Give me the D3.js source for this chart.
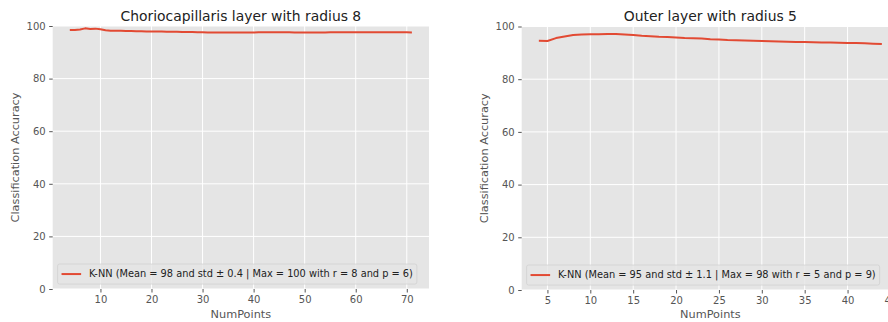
<!DOCTYPE html>
<html>
<head>
<meta charset="utf-8">
<script src="https://cdn.jsdelivr.net/npm/d3@7"></script>
<style>
  html, body { margin: 0; padding: 0; background: #ffffff; }
  svg { display: block; font-family: "DejaVu Sans", sans-serif; }
</style>
</head>
<body>
<svg id="chart" width="888" height="322"></svg>
<script>
// ---------- DATA ----------
const leftTitle = "Choriocapillaris layer with radius 8";
const leftX = d3.range(4, 72); // NumPoints 4..71
const leftY = [
  98.5, 98.5, 98.7, 99.1, 98.9, 99.0, 98.8, 98.4, 98.2, 98.2,
  98.2, 98.1, 98.1, 98.0, 98.0, 97.9, 97.9, 97.9, 97.9, 97.8,
  97.8, 97.8, 97.7, 97.7, 97.7, 97.6, 97.6, 97.5, 97.5, 97.5,
  97.5, 97.5, 97.5, 97.5, 97.5, 97.5, 97.5, 97.6, 97.6, 97.6,
  97.6, 97.6, 97.6, 97.6, 97.5, 97.5, 97.5, 97.5, 97.5, 97.5,
  97.5, 97.6, 97.6, 97.6, 97.6, 97.6, 97.6, 97.6, 97.6, 97.6,
  97.6, 97.6, 97.6, 97.6, 97.6, 97.6, 97.6, 97.5
];
const leftLegend = "K-NN (Mean = 98 and std \u00b1 0.4 | Max = 100 with r = 8 and p = 6)";
const leftXTicks = [10, 20, 30, 40, 50, 60, 70];

const rightTitle = "Outer layer with radius 5";
const rightX = d3.range(4, 45); // NumPoints 4..44
const rightY = [
  94.6, 94.5, 95.6, 96.2, 96.8, 97.0, 97.1, 97.1, 97.2, 97.2,
  97.0, 96.8, 96.5, 96.3, 96.1, 96.0, 95.8, 95.6, 95.5, 95.4,
  95.2, 95.1, 94.9, 94.8, 94.7, 94.6, 94.5, 94.4, 94.3, 94.2,
  94.1, 94.1, 94.0, 93.9, 93.9, 93.8, 93.7, 93.7, 93.6, 93.5, 93.4
];
const rightLegend = "K-NN (Mean = 95 and std \u00b1 1.1 | Max = 98 with r = 5 and p = 9)";
const rightXTicks = [5, 10, 15, 20, 25, 30, 35, 40, 45];

const yTicks = [0, 20, 40, 60, 80, 100];
const xLabel = "NumPoints";
const yLabel = "Classification Accuracy";

// ---------- STYLE ----------
const BG = "#E5E5E5";
const LINE = "#E24A33";
const TICKCOL = "#555555";

const svg = d3.select("#chart");

function panel(opts) {
  const { left, right, top, bottom, xs, ys, title, legend, xTicks, yLabelX } = opts;
  const xmin = d3.min(xs), xmax = d3.max(xs);
  const pad = (xmax - xmin) * 0.05;
  const x = d3.scaleLinear().domain([xmin - pad, xmax + pad]).range([left, right]);
  const y = d3.scaleLinear().domain([0, 100]).range([bottom, top]);

  const g = svg.append("g");

  g.append("rect")
    .attr("x", left).attr("y", top)
    .attr("width", right - left).attr("height", bottom - top)
    .attr("fill", BG);

  // grid
  g.selectAll(".gx").data(xTicks).enter().append("line")
    .attr("x1", d => x(d)).attr("x2", d => x(d))
    .attr("y1", top).attr("y2", bottom)
    .attr("stroke", "#ffffff").attr("stroke-width", 1);
  g.selectAll(".gy").data(yTicks).enter().append("line")
    .attr("x1", left).attr("x2", right)
    .attr("y1", d => y(d)).attr("y2", d => y(d))
    .attr("stroke", "#ffffff").attr("stroke-width", 1);

  // axes
  const xAxis = d3.axisBottom(x).tickValues(xTicks).tickSize(3.5).tickPadding(3.5).tickFormat(d3.format("d"));
  const gx = g.append("g").attr("transform", `translate(0,${bottom})`).call(xAxis);
  gx.select(".domain").remove();
  gx.selectAll("line").attr("stroke", TICKCOL);
  gx.selectAll("text").attr("fill", TICKCOL).style("font-size", "10px")
    .style("font-family", "DejaVu Sans, sans-serif");

  const yAxis = d3.axisLeft(y).tickValues(yTicks).tickSize(3.5).tickPadding(3.5).tickFormat(d3.format("d"));
  const gy = g.append("g").attr("transform", `translate(${left},0)`).call(yAxis);
  gy.select(".domain").remove();
  gy.selectAll("line").attr("stroke", TICKCOL);
  gy.selectAll("text").attr("fill", TICKCOL).style("font-size", "10px")
    .style("font-family", "DejaVu Sans, sans-serif");

  // line
  const pts = xs.map((d, i) => [d, ys[i]]);
  const lineGen = d3.line().x(d => x(d[0])).y(d => y(d[1])).curve(d3.curveLinear);
  g.append("path").datum(pts)
    .attr("d", lineGen)
    .attr("fill", "none")
    .attr("stroke", LINE)
    .attr("stroke-width", 2)
    .attr("stroke-linejoin", "round");

  // title
  const cx = (left + right) / 2;
  g.append("text")
    .attr("x", cx).attr("y", 20.5)
    .attr("text-anchor", "middle")
    .attr("fill", "#222")
    .style("font-size", "13.9px")
    .text(title);

  // axis labels
  g.append("text")
    .attr("x", cx).attr("y", 318)
    .attr("text-anchor", "middle")
    .attr("fill", TICKCOL)
    .style("font-size", "11.3px")
    .text(xLabel);
  g.append("text")
    .attr("transform", `translate(${yLabelX},${(top + bottom) / 2}) rotate(-90)`)
    .attr("text-anchor", "middle")
    .attr("fill", TICKCOL)
    .style("font-size", "11.3px")
    .text(yLabel);

  // legend
  const fs = 9.8;
  const bx = left + fs * 0.5;
  const bh = fs * 1.25 + fs * 0.8;
  const byB = bottom - fs * 0.5;
  const by = byB - bh;
  const lg = g.append("g");
  const txt = lg.append("text")
    .attr("x", bx + fs * 0.4 + fs * 2 + fs * 0.8)
    .attr("y", by + bh / 2)
    .attr("dy", "0.35em")
    .attr("fill", "#222")
    .style("font-size", fs + "px")
    .text(legend);
  const tw = txt.node().getComputedTextLength();
  lg.insert("rect", "text")
    .attr("x", bx).attr("y", by)
    .attr("width", fs * 0.4 + fs * 2 + fs * 0.8 + tw + fs * 0.4)
    .attr("height", bh)
    .attr("rx", 2)
    .attr("fill", BG).attr("fill-opacity", 0.8)
    .attr("stroke", "#cccccc").attr("stroke-opacity", 0.8).attr("stroke-width", 0.8);
  lg.insert("line", "text")
    .attr("x1", bx + fs * 0.4).attr("x2", bx + fs * 0.4 + fs * 2)
    .attr("y1", by + bh / 2).attr("y2", by + bh / 2)
    .attr("stroke", LINE).attr("stroke-width", 2);
}

panel({
  left: 52.7, right: 429, top: 26, bottom: 289,
  xs: leftX, ys: leftY, title: leftTitle, legend: leftLegend,
  xTicks: leftXTicks, yLabelX: 19
});
panel({
  left: 521.7, right: 899, top: 26.5, bottom: 290,
  xs: rightX, ys: rightY, title: rightTitle, legend: rightLegend,
  xTicks: rightXTicks, yLabelX: 488
});
</script>
</body>
</html>
